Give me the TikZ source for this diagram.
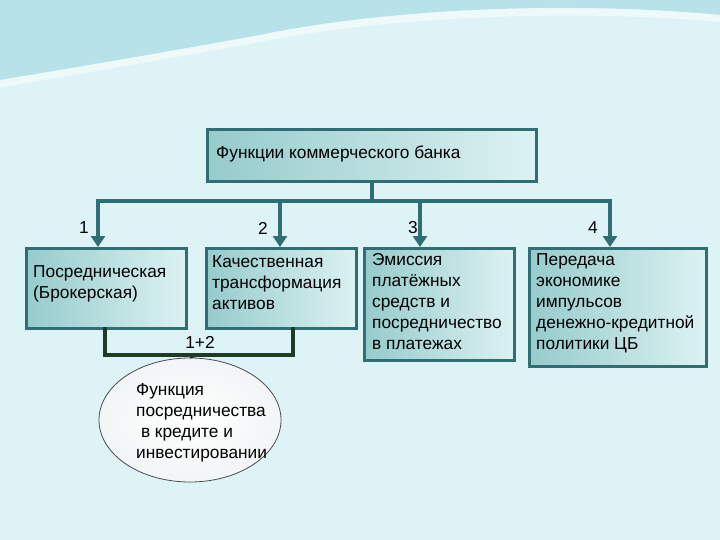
\documentclass[tikz,border=0pt]{standalone}
\usepackage{fontspec}
\setmainfont{Liberation Sans}
\usetikzlibrary{arrows.meta,shapes.geometric}
\definecolor{bg}{HTML}{DDF3F6}
\definecolor{wave}{HTML}{A9DCE6}
\definecolor{bord}{HTML}{2F6E73}
\definecolor{fillA}{HTML}{96CBCC}
\definecolor{fillB}{HTML}{DDF2F2}
\definecolor{brk}{HTML}{1E3B26}
\begin{document}
\begin{tikzpicture}[x=1pt,y=-1pt,
 box/.style={draw=bord,line width=3pt,left color=fillA,right color=fillB,anchor=north west,inner sep=0pt},
 conn/.style={draw=bord,line width=4pt},
 arr/.style={conn,-{Triangle[length=11pt,width=14pt]}},
 txt/.style={align=left,anchor=north west,font=\fontsize{17.3}{21}\selectfont,inner sep=0pt},
 lab/.style={font=\fontsize{17.3}{20}\selectfont,inner sep=0pt}]
\fill[bg] (0,0) rectangle (720,540);
\useasboundingbox (0,0) rectangle (720,540);
\fill[wave,opacity=0.7] (0,0) -- (720,0) -- (720,15) .. controls (560,0) and (380,10) .. (260,35) .. controls (150,55) and (60,70) .. (0,80) -- cycle;
\fill[white,opacity=0.5] (0,80) .. controls (60,70) and (150,55) .. (260,35) .. controls (380,10) and (560,0) .. (720,15) -- (720,22) .. controls (560,8) and (380,18) .. (260,42) .. controls (150,62) and (60,77) .. (0,88) -- cycle;
\node[box,minimum width=329pt,minimum height=52pt] (top) at (206,128) {};
\node[lab,anchor=west] (toptxt) at (216,154) {Функции коммерческого банка};
\node[box,minimum width=160pt,minimum height=80pt] (b1) at (25,247) {};
\node[box,minimum width=150pt,minimum height=80pt] (b2) at (205,247) {};
\node[box,minimum width=150pt,minimum height=112pt] (b3) at (363,247) {};
\node[box,minimum width=177pt,minimum height=118pt] (b4) at (528,247) {};
\node[txt] (t1) at (33,265) {Посредническая\\(Брокерская)};
\node[txt] (t2) at (212,255) {Качественная\\трансформация\\активов};
\node[txt] (t3) at (372,253) {Эмиссия\\платёжных\\средств и\\посредничество\\в платежах};
\node[txt] (t4) at (536,253) {Передача\\экономике\\импульсов\\денежно-кредитной\\политики ЦБ};
\coordinate (hl) at (98,201);
\coordinate (hr) at (610,201);
\draw[conn] (top.south) -- ([yshift=-1.5pt]top.south |- hl);
\draw[conn] ([xshift=-2pt]hl) -- ([xshift=2pt]hr);
\draw[arr] (hl) -- (hl |- b1.north);
\draw[arr] (280,201) -- (280,247);
\draw[arr] (420,201) -- (420,247);
\draw[arr] (hr) -- (hr |- b4.north);
\node[lab] (n1) at (84,228) {1};
\node[lab] (n2) at (263,228) {2};
\node[lab] (n3) at (413,228) {3};
\node[lab] (n4) at (593,228) {4};
\node[ellipse,draw=black!70,line width=0.8pt,inner color=white,outer color=bg!85!black!20,minimum width=182pt,minimum height=124pt] (el) at (190,420) {};
\node[txt] (te) at (136,383) {Функция\\посредничества\\\ в кредите и\\инвестировании};
\draw[draw=brk,line width=4pt] (105,327) -- (105,355) -- (293,355) -- (293,327);
\draw[draw=brk,line width=2pt] (200,355) -- (el.north);
\node[lab] (n12) at (200,342) {1+2};
\end{tikzpicture}
\end{document}
